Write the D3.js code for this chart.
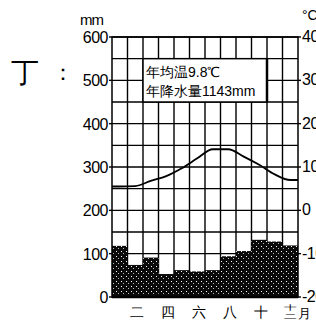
<!DOCTYPE html>
<html>
<head>
<meta charset="utf-8">
<script src="https://cdn.jsdelivr.net/npm/d3@7"></script>
<style>
  body { margin: 0; background: #fff; }
  svg text { font-family: "Liberation Sans", Arial, sans-serif; fill: #000; }
</style>
</head>
<body>
<svg id="chart" width="316" height="321"></svg>
<script>
// data
const months = ["一","二","三","四","五","六","七","八","九","十","十一","十二"];
const precip = [118, 74, 91, 53, 62, 59, 62, 94, 106, 132, 128, 119];   // mm
const temp = [5.5, 5.6, 6.8, 7.9, 9.7, 12.0, 14.1, 14.1, 12.4, 10.5, 8.3, 7.0]; // °C
const mmTicks = [0, 100, 200, 300, 400, 500, 600];
const tTicks = [-20, -10, 0, 10, 20, 30, 40];
const xLabels = ["二","四","六","八","十"];
const infoLines = ["年均温9.8℃", "年降水量1143mm"];

const svg = d3.select("#chart");
const plotL = 112, plotR = 298, plotT = 37, plotB = 297;

let x = d3.scaleBand().domain(months).range([plotL, plotR]).padding(0);
let yP = d3.scaleLinear().domain([0, 600]).range([plotB, plotT]);
let yT = d3.scaleLinear().domain([-20, 40]).range([plotB, plotT]);

// stipple pattern for the bars
let defs = svg.append("defs");
let pat = defs.append("pattern").attr("id", "dots")
    .attr("width", 5).attr("height", 5).attr("patternUnits", "userSpaceOnUse");
pat.append("rect").attr("width", 5).attr("height", 5).attr("fill", "#0a0a0a");
pat.append("rect").attr("x", 1).attr("y", 1).attr("width", 1).attr("height", 1).attr("fill", "#fff");
pat.append("rect").attr("x", 3).attr("y", 3).attr("width", 1).attr("height", 1).attr("fill", "#bbb");

// grid
let hLines = d3.range(0, 601, 50);
svg.append("g").selectAll("line").data(hLines).enter().append("line")
    .attr("x1", plotL).attr("x2", plotR)
    .attr("y1", d => yP(d)).attr("y2", d => yP(d))
    .style("stroke", "#000").style("stroke-width", 1.4);

svg.append("g").selectAll("line").data(months.slice(1)).enter().append("line")
    .attr("x1", d => x(d)).attr("x2", d => x(d))
    .attr("y1", plotT).attr("y2", plotB)
    .style("stroke", "#000").style("stroke-width", 1.4);

// bars
svg.append("g").selectAll("rect").data(precip).enter().append("rect")
    .attr("x", (d, i) => x(months[i]))
    .attr("width", x.bandwidth())
    .attr("y", d => yP(d))
    .attr("height", d => plotB - yP(d))
    .attr("fill", "url(#dots)");

// temperature curve
let pts = temp.map((t, i) => [x(months[i]) + x.bandwidth() / 2, yT(t)]);
pts.unshift([plotL, yT(temp[0])]);
pts.push([plotR, yT(temp[temp.length - 1])]);
svg.append("path")
    .attr("d", d3.line().curve(d3.curveMonotoneX)(pts))
    .attr("fill", "none")
    .style("stroke", "#000").style("stroke-width", 1.8);

// frame
svg.append("rect").attr("x", plotL).attr("y", plotT)
    .attr("width", plotR - plotL).attr("height", plotB - plotT)
    .attr("fill", "none").style("stroke", "#000").style("stroke-width", 1.5);
svg.append("line").attr("x1", plotL).attr("x2", plotR).attr("y1", plotB).attr("y2", plotB)
    .style("stroke", "#000").style("stroke-width", 2.5);

// info box
let bx0 = x(months[2]), bx1 = x(months[10]);
svg.append("rect").attr("x", bx0).attr("y", yP(550))
    .attr("width", bx1 - bx0).attr("height", yP(450) - yP(550))
    .attr("fill", "#fff").style("stroke", "#000").style("stroke-width", 1.5);
svg.append("line").attr("x1", bx1).attr("x2", bx1).attr("y1", yP(550)).attr("y2", yP(450))
    .style("stroke", "#000").style("stroke-width", 2.5);
svg.selectAll(".info").data(infoLines).enter().append("text")
    .attr("class", "info")
    .attr("x", bx0 + 3)
    .attr("y", (d, i) => yP(550) + 18 + i * 19)
    .attr("font-size", 14)
    .text(d => d);

// left axis
let la = svg.append("g");
la.selectAll("text").data(mmTicks).enter().append("text")
    .attr("x", plotL - 4).attr("y", d => yP(d) + 6)
    .attr("text-anchor", "end").attr("font-size", 16)
    .attr("letter-spacing", -0.5)
    .text(d => d);
la.selectAll("line").data(mmTicks).enter().append("line")
    .attr("x1", plotL - 3).attr("x2", plotL)
    .attr("y1", d => yP(d)).attr("y2", d => yP(d))
    .style("stroke", "#000").style("stroke-width", 1.4);
svg.append("text").attr("x", 80).attr("y", 25).attr("font-size", 15)
    .attr("letter-spacing", -1).text("mm");

// right axis (labels run off the page edge as in the reference)
let ra = svg.append("g");
ra.selectAll("text").data(tTicks).enter().append("text")
    .attr("x", plotR + 4).attr("y", d => yT(d) + 5)
    .attr("font-size", 16).attr("letter-spacing", -0.5)
    .text(d => d);
ra.selectAll("line").data(tTicks).enter().append("line")
    .attr("x1", plotR).attr("x2", plotR + 3)
    .attr("y1", d => yT(d)).attr("y2", d => yT(d))
    .style("stroke", "#000").style("stroke-width", 1.4);
svg.append("text").attr("x", 302).attr("y", 20).attr("font-size", 14).text("°C");

// month labels
svg.selectAll(".mon").data(xLabels).enter().append("text")
    .attr("class", "mon")
    .attr("x", d => x(d) + x.bandwidth() / 2 + 2)
    .attr("y", 317)
    .attr("text-anchor", "middle")
    .attr("font-family", "Noto Sans CJK SC")
    .attr("font-size", 14)
    .text(d => d);

// 十二月: 十 stacked over 二 in one squeezed glyph
let decX = x("十二") + x.bandwidth() / 2;
let dec = svg.append("text")
    .attr("transform", `translate(${decX},0) scale(1,0.55)`)
    .attr("text-anchor", "middle").attr("font-family", "Noto Sans CJK SC")
    .attr("font-size", 13);
dec.append("tspan").attr("x", 0).attr("y", 310 / 0.55).text("十");
dec.append("tspan").attr("x", 0).attr("y", 319 / 0.55).text("二");
svg.append("text").attr("x", decX + 8).attr("y", 318)
    .attr("font-family", "Noto Sans CJK SC").attr("font-size", 13).text("月");

// panel label
svg.append("text").attr("x", 11).attr("y", 82)
    .attr("font-family", "Noto Sans CJK SC").attr("font-size", 28).text("丁");
svg.append("text").attr("x", 52).attr("y", 80)
    .attr("font-family", "Noto Sans CJK SC").attr("font-size", 22).text("：");
</script>
</body>
</html>
